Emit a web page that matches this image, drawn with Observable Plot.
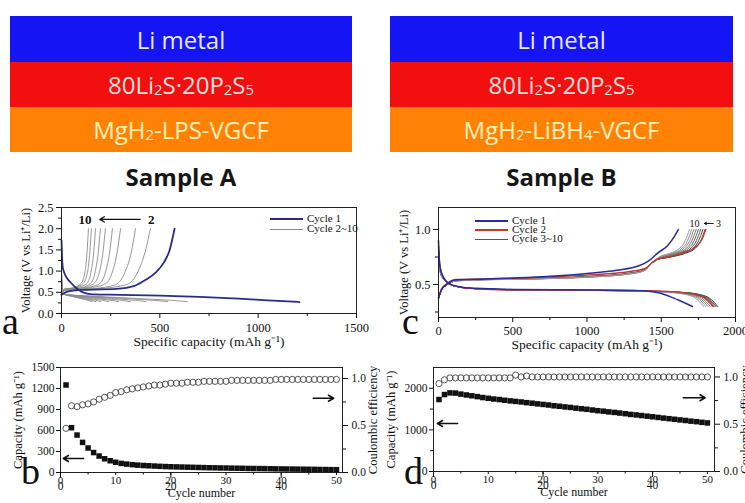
<!DOCTYPE html>
<html><head><meta charset="utf-8">
<script src="https://cdn.jsdelivr.net/npm/d3@7"></script>
<script src="https://cdn.jsdelivr.net/npm/@observablehq/plot@0.6"></script>
<style>
body{margin:0;background:#fff;}
#root{position:relative;width:745px;height:503px;overflow:hidden;background:#fff;font-family:"Liberation Serif",serif;color:#111;}
.layer{position:absolute;display:flex;align-items:center;justify-content:center;font-family:"Open Sans",sans-serif;font-size:24px;}
.layer sub{font-size:0.62em;position:relative;top:0.32em;vertical-align:baseline;line-height:0;}
.sample{position:absolute;font-family:"Open Sans",sans-serif;font-weight:700;font-size:24px;color:#161616;text-align:center;}
.letter{position:absolute;font-family:"Liberation Serif",serif;font-size:38px;line-height:1;color:#111;}
.leg{position:absolute;font-family:"Liberation Serif",serif;font-size:11px;line-height:1;white-space:nowrap;}
.leg span.l{display:inline-block;width:33px;vertical-align:middle;margin-right:4px;}
</style></head>
<body><div id="root"></div>
<script>
// ---------- DATA ----------
const layerNames = ["Li metal", "80Li<sub>2</sub>S·20P<sub>2</sub>S<sub>5</sub>"];
const anodeA = "MgH<sub>2</sub>-LPS-VGCF";
const anodeB = "MgH<sub>2</sub>-LiBH<sub>4</sub>-VGCF";
const sampleNames = ["Sample A", "Sample B"];

// Panel a: voltage profiles (capacity mAh/g, voltage V)
const aCycle1Discharge = [[0,1.72],[3,1.3],[6,1.1],[15,0.95],[30,0.82],[47,0.73],[70,0.62],[100,0.52],[130,0.47],[160,0.45],[300,0.44],[500,0.42],[700,0.39],[900,0.35],[1050,0.31],[1210,0.27]];
const aCycle1Charge = [[0,0.44],[20,0.5],[60,0.54],[130,0.56],[280,0.58],[370,0.65],[430,0.8],[480,0.97],[520,1.2],[550,1.5],[575,2.0]];
const aGrayCharge = [
 [[0,.46],[20,.55],[200,.59],[330,.68],[390,1.0],[425,1.45],[452,2.0]],
 [[0,.46],[20,.55],[170,.59],[275,.68],[325,1.0],[355,1.45],[376,2.0]],
 [[0,.46],[20,.56],[135,.6],[220,.69],[260,1.0],[283,1.45],[300,2.0]],
 [[0,.46],[18,.56],[115,.6],[190,.69],[225,1.0],[245,1.45],[259,2.0]],
 [[0,.46],[16,.56],[100,.6],[163,.7],[194,1.0],[211,1.45],[223,2.0]],
 [[0,.46],[15,.56],[90,.6],[145,.7],[172,1.0],[187,1.45],[198,2.0]],
 [[0,.46],[14,.57],[78,.61],[127,.7],[151,1.0],[164,1.45],[173,2.0]],
 [[0,.46],[13,.57],[68,.61],[111,.71],[133,1.0],[144,1.45],[152,2.0]],
 [[0,.46],[12,.57],[62,.61],[100,.71],[120,1.0],[130,1.45],[137,2.0]]
];
const aGrayDischarge = [
 [[0,1.0],[3,0.5],[20,0.45],[150,0.41],[400,0.35],[560,0.31],[640,0.28]],
 [[0,1.0],[3,0.5],[20,0.45],[130,0.41],[340,0.35],[470,0.31],[540,0.28]],
 [[0,.98],[3,.5],[20,.45],[110,.41],[270,.35],[375,.31],[430,.28]],
 [[0,.96],[3,.5],[20,.45],[95,.41],[220,.35],[305,.31],[350,.28]],
 [[0,.94],[3,.5],[18,.45],[80,.41],[185,.35],[252,.31],[290,.28]],
 [[0,.92],[3,.5],[16,.45],[68,.41],[152,.35],[208,.31],[240,.28]],
 [[0,.9],[3,.5],[15,.45],[58,.41],[127,.35],[174,.31],[200,.28]],
 [[0,.88],[3,.5],[14,.45],[52,.41],[112,.35],[152,.31],[175,.28]],
 [[0,.86],[3,.5],[13,.45],[47,.41],[99,.35],[135,.31],[155,.28]]
];

// Panel c: voltage profiles
const cCycle1Discharge = [[0,0.9],[4,0.76],[12,0.65],[35,0.56],[70,0.51],[140,0.48],[250,0.465],[500,0.455],[1000,0.45],[1300,0.445],[1400,0.44],[1480,0.425],[1560,0.39],[1630,0.35],[1710,0.3]];
const cCycle1Charge = [[0,0.38],[20,0.45],[55,0.5],[110,0.54],[300,0.55],[700,0.57],[1000,0.6],[1200,0.63],[1350,0.67],[1420,0.72],[1480,0.79],[1540,0.85],[1580,0.92],[1615,1.0]];
const cCycle2Discharge = [[0,0.85],[5,0.72],[15,0.63],[40,0.55],[80,0.5],[150,0.475],[250,0.462],[500,0.452],[1000,0.448],[1300,0.445],[1500,0.44],[1650,0.425],[1740,0.405],[1790,0.38],[1825,0.34],[1850,0.3]];
const cCycle2Charge = [[0,0.38],[20,0.46],[60,0.51],[120,0.545],[300,0.55],[700,0.565],[1000,0.585],[1300,0.62],[1400,0.65],[1440,0.7],[1470,0.73],[1550,0.75],[1650,0.79],[1720,0.83],[1770,0.9],[1800,1.0]];
const cGrayCharge = [
 [[0,.37],[20,.45],[60,.5],[120,.535],[300,.545],[700,.555],[1000,.572],[1300,.605],[1390,.635],[1430,.69],[1470,.725],[1565,.75],[1665,.785],[1730,.83],[1767,.9],[1795,1]],
 [[0,.37],[20,.45],[60,.5],[120,.535],[300,.545],[700,.555],[1000,.571],[1300,.604],[1390,.634],[1430,.69],[1470,.725],[1550,.75],[1650,.785],[1715,.83],[1752,.9],[1780,1]],
 [[0,.37],[20,.45],[60,.5],[120,.535],[300,.545],[700,.554],[1000,.57],[1300,.603],[1390,.633],[1430,.69],[1470,.724],[1535,.75],[1635,.785],[1700,.83],[1737,.9],[1765,1]],
 [[0,.37],[20,.45],[60,.5],[120,.534],[300,.544],[700,.554],[1000,.569],[1300,.602],[1390,.632],[1430,.69],[1470,.724],[1520,.75],[1620,.785],[1685,.83],[1722,.9],[1750,1]],
 [[0,.37],[20,.45],[60,.5],[120,.534],[300,.544],[700,.553],[1000,.568],[1300,.601],[1390,.631],[1430,.69],[1470,.723],[1505,.75],[1605,.785],[1670,.83],[1707,.9],[1735,1]],
 [[0,.37],[20,.45],[60,.5],[120,.533],[300,.543],[700,.553],[1000,.567],[1300,.6],[1390,.63],[1430,.69],[1470,.722],[1490,.75],[1590,.785],[1655,.83],[1692,.9],[1720,1]],
 [[0,.37],[20,.45],[60,.5],[120,.533],[300,.543],[700,.552],[1000,.566],[1300,.599],[1390,.629],[1430,.69],[1470,.72],[1480,.745],[1575,.785],[1640,.83],[1677,.9],[1705,1]],
 [[0,.37],[20,.45],[60,.5],[120,.532],[300,.542],[700,.552],[1000,.565],[1300,.598],[1390,.628],[1430,.69],[1470,.72],[1475,.74],[1560,.785],[1625,.83],[1662,.9],[1690,1]]
];
const cGrayDischarge = [
 [[0,.82],[5,.7],[15,.6],[40,.54],[80,.5],[150,.475],[250,.462],[500,.452],[1000,.447],[1300,.443],[1500,.437],[1680,.425],[1770,.405],[1820,.38],[1855,.34],[1880,.3]],
 [[0,.82],[5,.7],[15,.6],[40,.54],[80,.5],[150,.475],[250,.462],[500,.452],[1000,.447],[1300,.443],[1500,.437],[1670,.425],[1760,.405],[1810,.38],[1845,.34],[1870,.3]],
 [[0,.8],[5,.69],[15,.6],[40,.54],[80,.5],[150,.475],[250,.462],[500,.452],[1000,.447],[1300,.443],[1500,.437],[1660,.425],[1750,.405],[1800,.38],[1835,.34],[1860,.3]],
 [[0,.8],[5,.69],[15,.6],[40,.54],[80,.5],[150,.475],[250,.462],[500,.452],[1000,.447],[1300,.443],[1500,.436],[1645,.425],[1735,.405],[1785,.38],[1820,.34],[1845,.3]],
 [[0,.78],[5,.68],[15,.6],[40,.54],[80,.5],[150,.475],[250,.462],[500,.452],[1000,.446],[1300,.442],[1500,.435],[1630,.425],[1720,.405],[1770,.38],[1805,.34],[1830,.3]],
 [[0,.78],[5,.68],[15,.6],[40,.54],[80,.5],[150,.475],[250,.462],[500,.452],[1000,.446],[1300,.442],[1500,.434],[1615,.425],[1705,.405],[1755,.38],[1790,.34],[1815,.3]],
 [[0,.76],[5,.67],[15,.6],[40,.54],[80,.5],[150,.475],[250,.462],[500,.452],[1000,.446],[1300,.442],[1500,.433],[1600,.425],[1690,.405],[1740,.38],[1775,.34],[1800,.3]],
 [[0,.76],[5,.67],[15,.6],[40,.54],[80,.5],[150,.475],[250,.462],[500,.452],[1000,.446],[1300,.441],[1500,.432],[1585,.425],[1675,.405],[1725,.38],[1760,.34],[1785,.3]]
];

// Panel b: Sample A cycling
const cycles = d3.range(1, 51);
const cycleTicks = [0, 10, 20, 30, 40, 50];
const capacityA = [1250,640,535,430,350,285,235,196,168,146,130,120,112,105,100,96,92,88,85,82,80,78,76,74,72,70,68,67,65,64,62,61,60,58,57,56,55,54,52,51,50,49,48,47,46,45,43,42,41,40];
const ceA = [0.47,0.71,0.70,0.72,0.73,0.75,0.78,0.80,0.82,0.85,0.86,0.88,0.89,0.90,0.91,0.92,0.93,0.93,0.94,0.95,0.95,0.95,0.96,0.96,0.96,0.97,0.97,0.97,0.97,0.97,0.98,0.98,0.98,0.98,0.98,0.98,0.98,0.98,0.99,0.99,0.99,0.99,0.99,0.99,0.99,0.99,0.99,0.99,0.99,0.99];
// Panel d: Sample B cycling
const capacityB = [1730,1850,1890,1885,1860,1840,1820,1800,1778,1760,1742,1730,1712,1698,1685,1672,1655,1642,1625,1612,1598,1580,1568,1552,1540,1522,1508,1495,1478,1462,1450,1432,1420,1405,1390,1372,1360,1345,1330,1315,1300,1284,1270,1255,1240,1226,1210,1198,1182,1168];
const ceB = [0.93,0.97,0.99,0.99,0.99,0.99,0.99,0.99,0.99,0.99,0.99,0.99,0.99,0.99,1.02,1.0,1.01,1.0,1.0,1.0,1.0,1.0,1.0,1.0,1.0,1.0,1.0,1.0,1.0,1.0,1.0,1.0,1.0,1.0,1.0,1.0,1.0,1.0,1.0,1.0,1.0,1.0,1.0,1.0,1.0,1.0,1.0,1.0,1.0,1.0];

// annotation anchors (data space)
const aArrowNote = {x1: 400, x2: 195, y: 2.22, left: "10", right: "2", xl: 152, xr: 440};
const cArrowNote = {x1: 1850, x2: 1790, y: 1.055, left: "10", right: "3", xl: 1757, xr: 1868};
const bArrows = [{x1: 4.2, x2: 0.5, y: 200, axis: "cap"}, {x1: 45.8, x2: 49.5, y: 0.79, axis: "ce"}];
const dArrows = [{x1: 4.4, x2: 0.7, y: 1154, axis: "cap"}, {x1: 45.6, x2: 49.6, y: 0.78, axis: "ce"}];

// ---------- BUILD ----------
const root = document.getElementById("root");
function place(node, left, top) { node.style.position = "absolute"; node.style.left = left + "px"; node.style.top = top + "px"; root.appendChild(node); return node; }
function html(cls, inner, css) { const d = document.createElement("div"); d.className = cls; d.innerHTML = inner; Object.assign(d.style, css); root.appendChild(d); return d; }
const rows = (pts) => pts.map(([q, v]) => ({q, v}));
const intFmt = d3.format("d");

// stacks
const stackColors = ["#1414f5", "#f20f0f", "#ff8207"];
const stackText = ["#e6e6ff", "#ffdede", "#fff1b8"];
[[10, 342, anodeA, sampleNames[0]], [390, 343, anodeB, sampleNames[1]]].forEach(([left, w, anode, name]) => {
  const labels = [layerNames[0], layerNames[1], anode];
  const tops = [16, 62, 107], hs = [46, 45, 45];
  labels.forEach((t, i) => html("layer", t, {left: left + "px", top: tops[i] + "px", width: w + "px", height: hs[i] + "px", background: stackColors[i], color: stackText[i]}));
  html("sample", name, {left: left + "px", top: "160px", width: w + "px"});
});

const baseStyle = {background: "transparent", overflow: "visible", fontFamily: "Liberation Serif", fontSize: "12.5px", color: "#111"};

// Panel a
const plotA = Plot.plot({
  width: 375, height: 165, marginLeft: 61, marginRight: 19, marginTop: 12, marginBottom: 47,
  style: baseStyle,
  x: {domain: [0, 1500]}, y: {domain: [0, 2.5]},
  marks: [
    ...aGrayDischarge.map(c => Plot.line(rows(c), {x: "q", y: "v", stroke: "#8c8c8c", strokeWidth: 0.9, curve: "monotone-x"})),
    ...aGrayCharge.map(c => Plot.line(rows(c), {x: "q", y: "v", stroke: "#8c8c8c", strokeWidth: 0.9, curve: "monotone-x"})),
    Plot.line(rows(aCycle1Discharge), {x: "q", y: "v", stroke: "#2b2b8c", strokeWidth: 1.8, curve: "monotone-x"}),
    Plot.line(rows(aCycle1Charge), {x: "q", y: "v", stroke: "#2b2b8c", strokeWidth: 1.8, curve: "monotone-x"}),
    Plot.arrow([aArrowNote], {x1: "x1", x2: "x2", y1: "y", y2: "y", stroke: "#111", strokeWidth: 1.3, headLength: 6}),
    Plot.text([aArrowNote], {x: "xl", y: "y", text: "left", textAnchor: "end", fontSize: 13, fontWeight: "bold"}),
    Plot.text([aArrowNote], {x: "xr", y: "y", text: "right", textAnchor: "start", fontSize: 13, fontWeight: "bold"}),
    Plot.frame({stroke: "#222"}),
    Plot.axisX([0, 500, 1000, 1500], {tickSize: 5, tickPadding: 5, tickFormat: intFmt, label: null}),
    Plot.axisX([250, 750, 1250], {tickSize: 3, text: null, label: null}),
    Plot.axisY([0, 0.5, 1, 1.5, 2, 2.5], {tickSize: 5, tickPadding: 3, tickFormat: d3.format(".1f"), label: null}),
    Plot.axisY([0.25, 0.75, 1.25, 1.75, 2.25], {tickSize: 3, text: null, label: null}),
    Plot.text(["Specific capacity (mAh g⁻¹)"], {text: d => d, frameAnchor: "bottom", dy: 32, fontSize: 13.5, textAnchor: "middle"}),
    Plot.text(["Voltage (V vs Li⁺/Li)"], {text: d => d, frameAnchor: "left", rotate: -90, dx: -36, fontSize: 12.5, textAnchor: "middle"})
  ]
});
place(plotA, 0, 195);

// Panel c
const grayShades = ["#3c3c3c", "#4a4a4a", "#585858", "#666", "#747474", "#828282", "#909090", "#9c9c9c"];
const plotC = Plot.plot({
  width: 370, height: 165, marginLeft: 63, marginRight: 10, marginTop: 12, marginBottom: 43,
  style: baseStyle,
  x: {domain: [0, 2000]}, y: {domain: [0.2, 1.2]},
  marks: [
    ...cGrayDischarge.map((c, i) => Plot.line(rows(c), {x: "q", y: "v", stroke: grayShades[i], strokeWidth: 1, curve: "monotone-x"})),
    ...cGrayCharge.map((c, i) => Plot.line(rows(c), {x: "q", y: "v", stroke: grayShades[i], strokeWidth: 1, curve: "monotone-x"})),
    Plot.line(rows(cCycle2Discharge), {x: "q", y: "v", stroke: "#c0392b", strokeWidth: 1.4, curve: "monotone-x"}),
    Plot.line(rows(cCycle2Charge), {x: "q", y: "v", stroke: "#c0392b", strokeWidth: 1.4, curve: "monotone-x"}),
    Plot.line(rows(cCycle1Discharge), {x: "q", y: "v", stroke: "#2a2aa0", strokeWidth: 1.5, curve: "monotone-x"}),
    Plot.line(rows(cCycle1Charge), {x: "q", y: "v", stroke: "#2a2aa0", strokeWidth: 1.5, curve: "monotone-x"}),
    Plot.arrow([cArrowNote], {x1: "x1", x2: "x2", y1: "y", y2: "y", stroke: "#111", strokeWidth: 1, headLength: 4}),
    Plot.text([cArrowNote], {x: "xl", y: "y", text: "left", textAnchor: "end", fontSize: 10}),
    Plot.text([cArrowNote], {x: "xr", y: "y", text: "right", textAnchor: "start", fontSize: 10}),
    Plot.frame({stroke: "#222"}),
    Plot.axisX([0, 500, 1000, 1500, 2000], {tickSize: 5, tickPadding: 4, tickFormat: intFmt, label: null}),
    Plot.axisX([250, 750, 1250, 1750], {tickSize: 3, text: null, label: null}),
    Plot.axisY([0.5, 1.0], {tickSize: 5, tickPadding: 3, tickFormat: d3.format(".1f"), label: null}),
    Plot.axisY([0.25, 0.75], {tickSize: 3, text: null, label: null}),
    Plot.text(["Specific capacity (mAh g⁻¹)"], {text: d => d, frameAnchor: "bottom", dy: 31, fontSize: 13.5, textAnchor: "middle"}),
    Plot.text(["Voltage (V vs Li⁺/Li)"], {text: d => d, frameAnchor: "left", rotate: -90, dx: -35, fontSize: 12.5, textAnchor: "middle"})
  ]
});
place(plotC, 375, 195);

// cycling panels
function cyclingPanel(cap, ce, capDomain, capTicks, capMinor, ceDomain, arrows, geom, left, top) {
  const capRows = cycles.map((c, i) => ({c, y: cap[i]}));
  const ceRows = cycles.map((c, i) => ({c, y: ce[i]}));
  const common = {width: geom.w, height: 148, marginLeft: geom.ml, marginRight: geom.mr, marginTop: geom.mt, marginBottom: geom.mb, style: {...baseStyle, fontSize: "11.5px"}, x: {domain: [0, geom.xmax]}};
  const p1 = Plot.plot({...common, y: {domain: capDomain},
    marks: [
      Plot.dot(capRows, {x: "c", y: "y", symbol: "square", r: 3.1, fill: "#111", stroke: "none"}),
      Plot.arrow(arrows.filter(a => a.axis === "cap"), {x1: "x1", x2: "x2", y1: "y", y2: "y", stroke: "#111", strokeWidth: 1.5, headLength: 6}),
      Plot.frame({stroke: "#222"}),
      Plot.axisX(cycleTicks, {tickSize: 3, text: null, label: null}),
      Plot.text(cycleTicks, {x: d => d, text: d => String(d), frameAnchor: "bottom", dy: 8, lineAnchor: "middle", fontSize: 11}),
      Plot.axisX([5, 15, 25, 35, 45], {tickSize: 2.5, text: null, label: null}),
      Plot.axisY(capTicks, {tickSize: 4, tickPadding: 2, tickFormat: intFmt, label: null}),
      ...(capMinor ? [Plot.axisY(capMinor, {tickSize: 3, text: null, label: null})] : []),
      Plot.text(["Cycle number"], {text: d => d, frameAnchor: "bottom", dy: 24.5, fontSize: 12, textAnchor: "middle"}),
      Plot.text(["Capacity (mAh g⁻¹)"], {text: d => d, frameAnchor: "left", rotate: -90, dx: -43, fontSize: 12.5, textAnchor: "middle"})
    ]});
  const p2 = Plot.plot({...common, y: {domain: ceDomain},
    marks: [
      Plot.dot(ceRows, {x: "c", y: "y", symbol: "circle", r: 3.1, fill: "none", stroke: "#444", strokeWidth: 0.9}),
      Plot.arrow(arrows.filter(a => a.axis === "ce"), {x1: "x1", x2: "x2", y1: "y", y2: "y", stroke: "#111", strokeWidth: 1.5, headLength: 6}),
      Plot.axisY([0, 0.5, 1.0], {anchor: "right", tickSize: 5, tickPadding: 4, tickFormat: d3.format(".1f"), label: null}),
      Plot.axisY([0.25, 0.75], {anchor: "right", tickSize: 3, text: null, label: null}),
      Plot.text(["Coulombic efficiency"], {text: d => d, frameAnchor: "right", rotate: -90, dx: 30, fontSize: 12.5, textAnchor: "middle"})
    ]});
  place(p1, left, top);
  place(p2, left, top);
}
cyclingPanel(capacityA, ceA, [0, 1500], [0, 300, 600, 900, 1200, 1500], null, [0, 1.117], bArrows,
  {w: 375, ml: 60, mr: 33, mt: 12, mb: 31, xmax: 51.1}, 0, 355);
cyclingPanel(capacityB, ceB, [0, 2500], [0, 1000, 2000], [500, 1500], [0, 1.1], dArrows,
  {w: 370, ml: 58, mr: 31, mt: 12, mb: 32, xmax: 51.3}, 375, 355);

// legends
html("leg", '<div style="height:10px"><span class="l" style="border-top:2px solid #2b2b8c"></span>Cycle 1</div><div style="height:10px"><span class="l" style="border-top:1px solid #8c8c8c"></span>Cycle 2~10</div>', {left: "270px", top: "213px"});
html("leg", '<div style="height:9px"><span class="l" style="border-top:2px solid #2a2aa0"></span>Cycle 1</div><div style="height:9px"><span class="l" style="border-top:2px solid #c0392b"></span>Cycle 2</div><div style="height:9px"><span class="l" style="border-top:1.5px solid #555"></span>Cycle 3~10</div>', {left: "475px", top: "215px"});

// panel letters
html("letter", "a", {left: "2px", top: "302px"});
html("letter", "c", {left: "402px", top: "302px"});
html("letter", "b", {left: "21px", top: "452px"});
html("letter", "d", {left: "404px", top: "452px"});
</script></body></html>
